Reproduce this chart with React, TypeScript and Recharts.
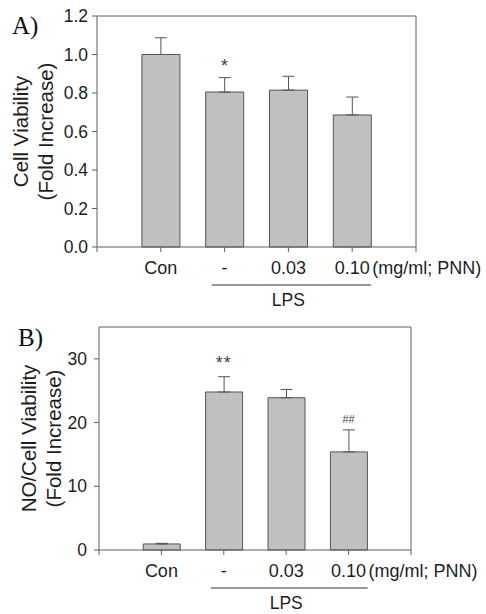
import React from "react";
import {
  BarChart,
  Bar,
  XAxis,
  YAxis,
  ErrorBar,
  ReferenceDot,
} from "recharts";

const CATEGORIES = ["Con", "-", "0.03", "0.10"];

const VIABILITY_MEAN = [1.0, 0.805, 0.815, 0.686];
const VIABILITY_SEM = [0.087, 0.075, 0.072, 0.093];
const VIABILITY_MARKS = ["", "*", "", ""];
const VIABILITY_TICKS = [0, 0.2, 0.4, 0.6, 0.8, 1.0, 1.2];

const NO_MEAN = [0.95, 24.8, 23.9, 15.4];
const NO_SEM = [0.1, 2.4, 1.3, 3.45];
const NO_MARKS = ["", "**", "", "##"];
const NO_TICKS = [0, 10, 20, 30];

const FONT = "'Liberation Sans', Arial, sans-serif";
const AXIS = "#5f5f5f";
const TEXT = "#1e1e1e";
const WIDTH = 486;

function buildRows(mean: number[], sem: number[], marks: string[]) {
  return CATEGORIES.map((cat, i) => ({
    cat,
    mean: mean[i],
    err: [0, sem[i]],
    top: mean[i] + sem[i],
    mark: marks[i],
  }));
}

// x tick: label, tick marks, LPS bracket, and the top/right sides of the frame
function makeTick(step: number, plotH: number) {
  return (props: any) => {
    const { x, y, payload, index } = props;
    const v = String(payload.value);
    const half = step / 2;
    const top = y - plotH;
    return (
      <g fontFamily={FONT}>
        <line x1={x} y1={y} x2={x} y2={y + 5} stroke={AXIS} strokeWidth={1} />
        {index === 0 && <line x1={x - step} y1={y} x2={x - step} y2={y + 5} stroke={AXIS} strokeWidth={1} />}
        {index === 0 && <line x1={x - step} y1={top} x2={x + step * 4} y2={top} stroke={AXIS} strokeWidth={1} />}
        {index === 3 && <line x1={x + step} y1={top} x2={x + step} y2={y + 5} stroke={AXIS} strokeWidth={1} />}
        {index === 3 ? (
          <>
            <text x={x} y={y + 21} fill={TEXT} textAnchor="middle" dominantBaseline="central" fontSize={18}>
              {v}
            </text>
            <text x={x + 20} y={y + 21} fill={TEXT} textAnchor="start" dominantBaseline="central" fontSize={18}>
              (mg/ml; PNN)
            </text>
          </>
        ) : (
          <text x={x} y={y + 21} fill={TEXT} textAnchor="middle" dominantBaseline="central" fontSize={18}>
            {v}
          </text>
        )}
        {index === 1 && <line x1={x - 13} y1={y + 38} x2={x + half} y2={y + 38} stroke="#333" />}
        {index === 2 && (
          <>
            <line x1={x - half} y1={y + 38} x2={x + half} y2={y + 38} stroke="#333" />
            <text x={x} y={y + 53} fill={TEXT} textAnchor="middle" dominantBaseline="central" fontSize={17.5}>
              LPS
            </text>
          </>
        )}
        {index === 3 && <line x1={x - half} y1={y + 38} x2={x + 19} y2={y + 38} stroke="#333" />}
      </g>
    );
  };
}

function YLabel(props: any) {
  const { viewBox, lines, xs } = props;
  const cy = Number(viewBox?.y ?? 0) + Number(viewBox?.height ?? 0) / 2;
  return (
    <g fontFamily={FONT} fill={TEXT} fontSize={20.5}>
      {lines.map((t: string, i: number) => (
        <text
          key={i}
          x={xs[i]}
          y={cy}
          textAnchor="middle"
          dominantBaseline="central"
          transform={`rotate(-90 ${xs[i]} ${cy})`}
        >
          {t}
        </text>
      ))}
    </g>
  );
}

type PanelProps = {
  rows: ReturnType<typeof buildRows>;
  height: number;
  margin: { top: number; right: number; left: number; bottom: number };
  yWidth: number;
  xHeight: number;
  domain: [number, number];
  ticks: number[];
  fmt: (v: number) => string;
  tickMargin: number;
  barSize: number;
  step: number;
  pad: number;
  lines: string[];
  labelXs: number[];
};

function Panel(p: PanelProps) {
  const plotH = p.height - p.margin.top - p.margin.bottom - p.xHeight;
  const axisLine = { stroke: AXIS, strokeWidth: 1 };
  return (
    <BarChart width={WIDTH} height={p.height} data={p.rows} margin={p.margin}>
      <XAxis
        dataKey="cat"
        interval={0}
        padding={{ left: p.step / 2, right: p.step / 2 }}
        height={p.xHeight}
        axisLine={axisLine}
        stroke={AXIS}
        tickLine={false}
        tickSize={0}
        tickMargin={0}
        tick={makeTick(p.step, plotH)}
      />
      <YAxis
        domain={p.domain}
        ticks={p.ticks}
        width={p.yWidth}
        tickFormatter={p.fmt}
        tickSize={5}
        tickMargin={p.tickMargin}
        stroke={AXIS}
        axisLine={axisLine}
        tickLine={axisLine}
        tick={{ fill: TEXT, fontSize: 17.5, fontFamily: FONT }}
        label={<YLabel lines={p.lines} xs={p.labelXs} />}
      />
      <Bar
        dataKey="mean"
        fill="#c0c0c0"
        stroke="#555"
        strokeWidth={1}
        barSize={p.barSize}
        isAnimationActive={false}
      >
        <ErrorBar dataKey="err" direction="y" width={6} stroke="#555" strokeWidth={1} />
      </Bar>
      {p.rows
        .filter((r) => r.mark)
        .map((r) => (
          <ReferenceDot
            key={r.cat}
            x={r.cat}
            y={r.top + p.pad * (r.mark === "##" ? 0.75 : 1)}
            r={0}
            fill="none"
            stroke="none"
            label={{
              value: r.mark,
              position: "center",
              fill: "#444",
              fontSize: r.mark === "##" ? 11 : 18,
              fontFamily: FONT,
              letterSpacing: r.mark === "**" ? 1 : 0,
            }}
          />
        ))}
    </BarChart>
  );
}

export default function App() {
  const rowsA = buildRows(VIABILITY_MEAN, VIABILITY_SEM, VIABILITY_MARKS);
  const rowsB = buildRows(NO_MEAN, NO_SEM, NO_MARKS);
  const serif = { position: "absolute" as const, fontFamily: "'Liberation Serif', 'DejaVu Serif', serif", fontSize: 25, color: "#111", lineHeight: 1 };
  return (
    <div style={{ position: "absolute", left: 0, top: 0, width: WIDTH, height: 614, background: "#fff" }}>
      <div style={{ position: "absolute", left: 0, top: 0 }}>
        <Panel
          rows={rowsA}
          height={311}
          margin={{ top: 16, right: 70, left: 0, bottom: 0 }}
          yWidth={97}
          xHeight={64}
          domain={[0, 1.2]}
          ticks={VIABILITY_TICKS}
          fmt={(v) => v.toFixed(1)}
          tickMargin={4}
          barSize={38}
          step={63.8}
          pad={0.06}
          lines={["Cell Viability", "(Fold Increase)"]}
          labelXs={[20, 45]}
        />
      </div>
      <div style={{ position: "absolute", left: 0, top: 311 }}>
        <Panel
          rows={rowsB}
          height={303}
          margin={{ top: 16, right: 75, left: 0, bottom: 0 }}
          yWidth={99}
          xHeight={64}
          domain={[0, 35]}
          ticks={NO_TICKS}
          fmt={(v) => String(v)}
          tickMargin={7}
          barSize={37}
          step={62.4}
          pad={2.2}
          lines={["NO/Cell Viability", "(Fold Increase)"]}
          labelXs={[28, 53]}
        />
      </div>
      <div style={{ ...serif, left: 12, top: 13 }}>A)</div>
      <div style={{ ...serif, left: 18, top: 325 }}>B)</div>
    </div>
  );
}
